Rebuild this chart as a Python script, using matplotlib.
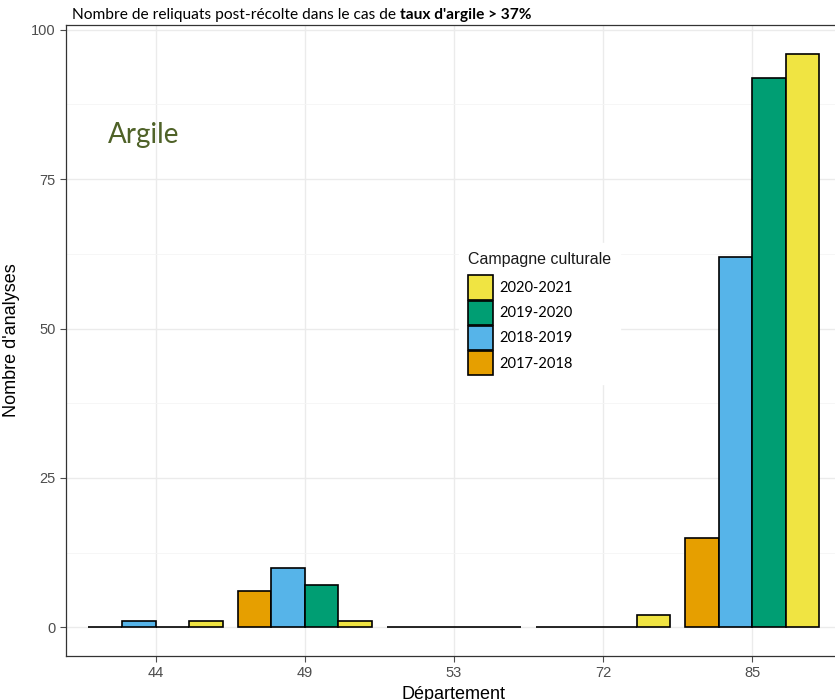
import matplotlib.pyplot as plt
from matplotlib.patches import Patch
import numpy as np

# données
departements = ['44', '49', '53', '72', '85']
campagnes = ['2017-2018', '2018-2019', '2019-2020', '2020-2021']
v_2017_2018 = [0, 6, 0, 0, 15]
v_2018_2019 = [1, 10, 0, 0, 62]
v_2019_2020 = [0, 7, 0, 0, 92]
v_2020_2021 = [1, 1, 0, 2, 96]
couleurs = ['#E69F00', '#56B4E9', '#009E73', '#F0E442']

valeurs = [v_2017_2018, v_2018_2019, v_2019_2020, v_2020_2021]

fig = plt.figure(figsize=(8.35, 7), dpi=100)
ax = fig.add_axes([66/835, 1-656/700, (841.7-66)/835, (656-25)/700])

x = np.arange(len(departements))
w = 0.9/4
for i, (vals, c) in enumerate(zip(valeurs, couleurs)):
    ax.bar(x - 0.45 + w*(i+0.5), vals, width=w, color=c, edgecolor='black',
           linewidth=1.2, zorder=3)

ax.set_xlim(-0.6, len(departements) - 0.4)
ax.set_ylim(-4.8, 100.8)
ax.set_xticks(x)
ax.set_xticklabels(departements)
ax.set_yticks([0, 25, 50, 75, 100])
ax.set_yticks([12.5, 37.5, 62.5, 87.5], minor=True)
ax.tick_params(axis='both', which='major', labelsize=10.5, colors='#4D4D4D',
               length=4, width=0.8, labelcolor='#4D4D4D')
ax.tick_params(axis='y', which='minor', length=0)
for lab in ax.get_xticklabels() + ax.get_yticklabels():
    lab.set_family('Liberation Sans')

ax.grid(which='major', color='#EBEBEB', linewidth=1.0, zorder=0)
ax.grid(which='minor', axis='y', color='#F5F5F5', linewidth=0.6, zorder=0)
ax.set_axisbelow(True)
for s in ax.spines.values():
    s.set_color('#333333')
    s.set_linewidth(0.9)

ax.set_xlabel('Département', family='Liberation Sans', fontsize=13, labelpad=4)
ax.set_ylabel("Nombre d'analyses", family='Liberation Sans', fontsize=13, labelpad=8)

# légende
handles = [Patch(facecolor=c, edgecolor='black', linewidth=1.2) for c in couleurs][::-1]
leg = ax.legend(handles, campagnes[::-1], title='Campagne culturale',
                loc='upper left', bbox_to_anchor=(452/835, 1-236/700),
                bbox_transform=fig.transFigure, frameon=True, fancybox=False,
                edgecolor='white', facecolor='white', framealpha=1,
                handlelength=1.7, handleheight=2.2, labelspacing=0.05,
                handletextpad=0.45, borderpad=0.6,
                prop={'family': 'Lato', 'size': 10.5})
leg.get_title().set_family('Liberation Sans')
leg.get_title().set_fontsize(11.5)
leg.get_title().set_color('#1A1A1A')
leg._legend_box.align = 'left'
leg._legend_box.sep = 6

# titre
t1 = fig.text(72/835, 1-19/700, "Nombre de reliquats post-récolte dans le cas de ",
              family='Lato', fontsize=11.2, va='baseline')
ax.annotate("taux d'argile > 37%", xy=(1, 0), xycoords=t1, va='bottom',
            family='Lato', fontsize=11.2, fontweight='bold')

fig.text(108/835, 1-135/700, 'Argile', family='Lato', fontsize=20,
         color='#4F6228', va='center')

fig.savefig('out.png', dpi=100)
